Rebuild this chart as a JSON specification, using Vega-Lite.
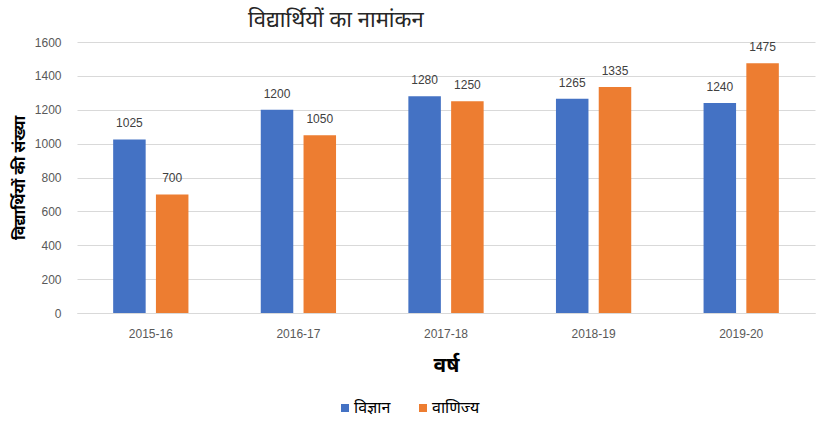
{
  "$schema": "https://vega.github.io/schema/vega-lite/v6.json",
  "width": 738,
  "height": 271,
  "autosize": {"type": "none"},
  "padding": {"left": 77, "top": 42, "right": 8, "bottom": 122},
  "background": "white",
  "title": {
    "text": "विद्यार्थियों का नामांकन",
    "anchor": "start",
    "frame": "group",
    "dx": 171,
    "offset": 4,
    "fontSize": 22,
    "font": "Noto Sans",
    "fontWeight": "normal",
    "color": "#262626"
  },
  "data": {
    "values": [
      {"year": "2015-16", "stream": "विज्ञान", "value": 1025},
      {"year": "2015-16", "stream": "वाणिज्य", "value": 700},
      {"year": "2016-17", "stream": "विज्ञान", "value": 1200},
      {"year": "2016-17", "stream": "वाणिज्य", "value": 1050},
      {"year": "2017-18", "stream": "विज्ञान", "value": 1280},
      {"year": "2017-18", "stream": "वाणिज्य", "value": 1250},
      {"year": "2018-19", "stream": "विज्ञान", "value": 1265},
      {"year": "2018-19", "stream": "वाणिज्य", "value": 1335},
      {"year": "2019-20", "stream": "विज्ञान", "value": 1240},
      {"year": "2019-20", "stream": "वाणिज्य", "value": 1475}
    ]
  },
  "encoding": {
    "x": {
      "field": "year",
      "type": "nominal",
      "sort": null,
      "scale": {"paddingInner": 0.49, "paddingOuter": 0.245},
      "axis": {
        "title": "वर्ष",
        "titleFontSize": 21,
        "titleFontWeight": "bold",
        "titleFont": "Noto Sans",
        "titleColor": "#000000",
        "titlePadding": 15,
        "labelAngle": 0,
        "labelFontSize": 12,
        "labelFont": "Liberation Sans",
        "labelColor": "#595959",
        "labelPadding": 15,
        "ticks": false,
        "domainColor": "#d9d9d9",
        "domainWidth": 1
      }
    },
    "xOffset": {
      "field": "stream",
      "type": "nominal",
      "sort": ["विज्ञान", "वाणिज्य"],
      "scale": {"paddingInner": 0.24, "paddingOuter": 0}
    },
    "y": {
      "field": "value",
      "type": "quantitative",
      "scale": {"domain": [0, 1600]},
      "axis": {
        "title": "विद्यार्थियों की संख्या",
        "titleFontSize": 16,
        "titleFont": "Noto Sans",
        "titleFontWeight": "bold",
        "titleColor": "#000000",
        "titlePadding": 7,
        "format": "d",
        "values": [0, 200, 400, 600, 800, 1000, 1200, 1400, 1600],
        "labelFontSize": 12,
        "labelFont": "Liberation Sans",
        "labelColor": "#595959",
        "labelPadding": 16,
        "ticks": false,
        "domain": false,
        "gridColor": "#d9d9d9",
        "gridWidth": 1
      }
    }
  },
  "layer": [
    {
      "mark": {"type": "bar"},
      "encoding": {
        "color": {
          "field": "stream",
          "type": "nominal",
          "sort": ["विज्ञान", "वाणिज्य"],
          "scale": {"domain": ["विज्ञान", "वाणिज्य"], "range": ["#4472C4", "#ED7D31"]},
          "legend": {
            "title": null,
            "orient": "none",
            "legendX": 260,
            "legendY": 358,
            "direction": "horizontal",
            "symbolType": "square",
            "symbolSize": 64,
            "symbolStrokeWidth": 0,
            "labelFontSize": 16,
            "labelFont": "Noto Sans",
            "labelColor": "#000000",
            "labelOffset": 1,
            "columnPadding": 24
          }
        }
      }
    },
    {
      "mark": {
        "type": "text",
        "baseline": "bottom",
        "dy": -9,
        "fontSize": 12,
        "font": "Liberation Sans",
        "color": "#404040"
      },
      "encoding": {
        "text": {"field": "value", "type": "quantitative"}
      }
    }
  ],
  "config": {
    "view": {"stroke": null}
  }
}
